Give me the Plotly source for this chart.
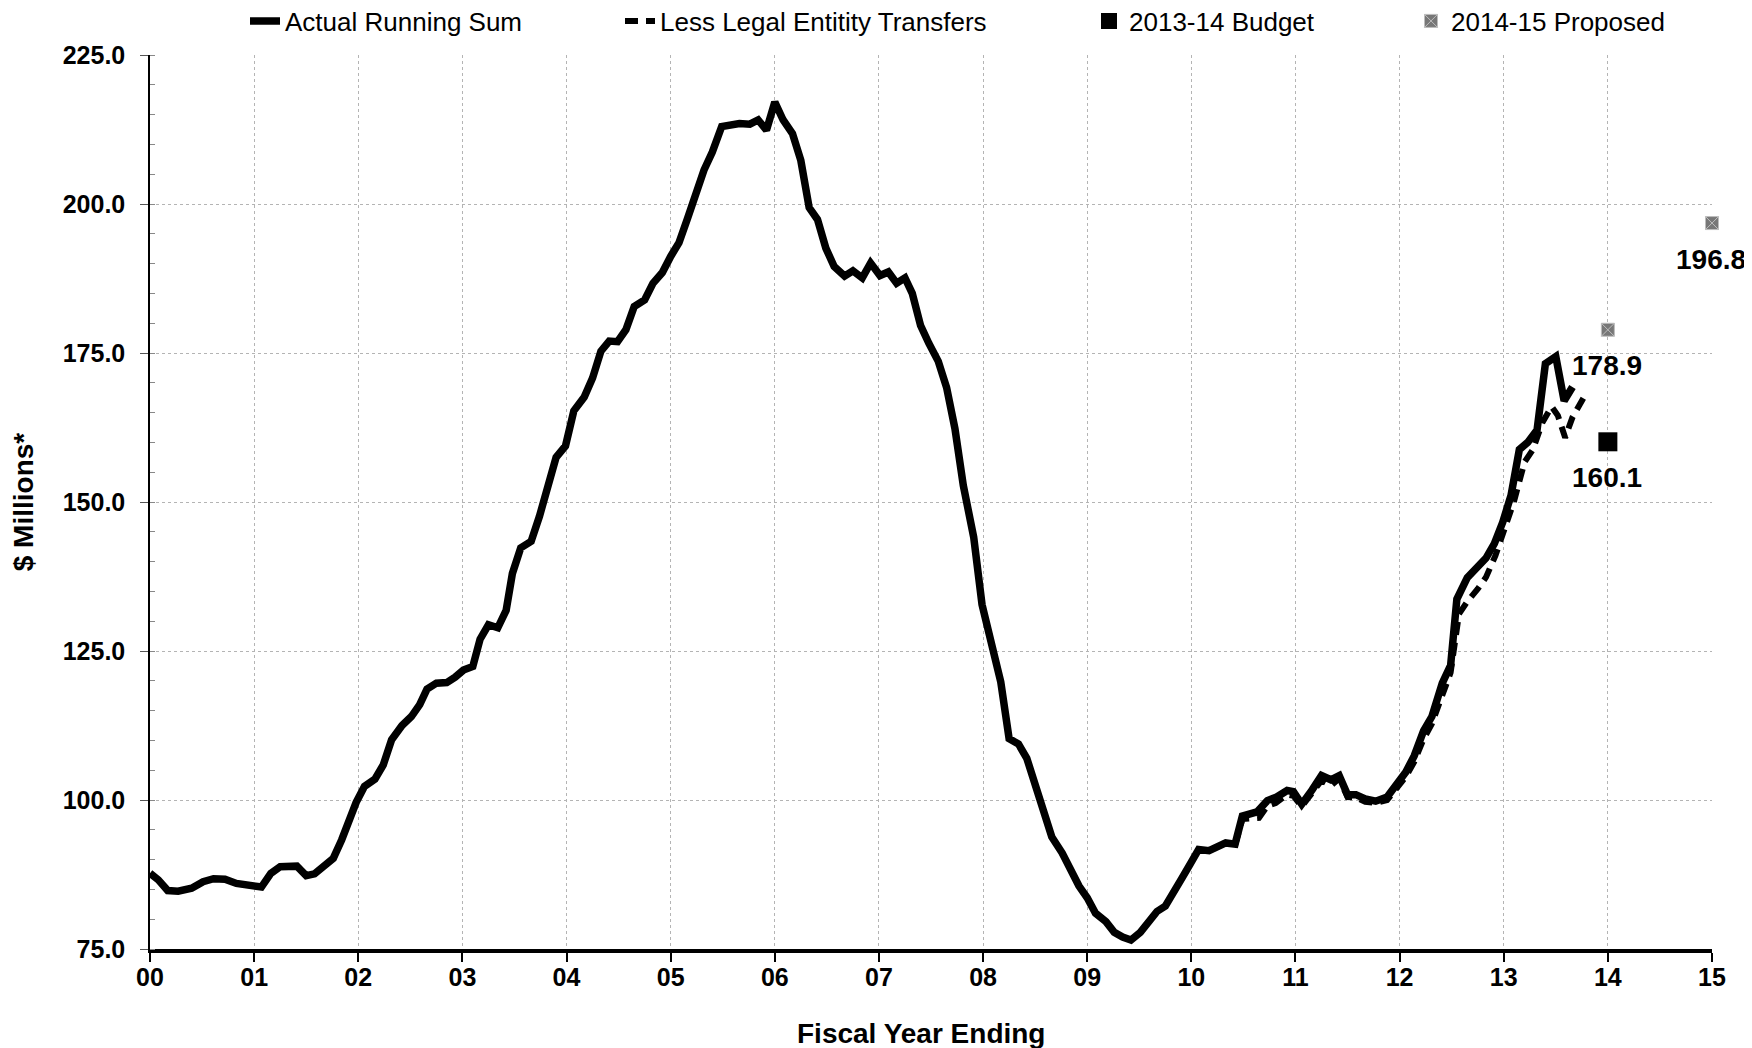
import plotly.graph_objects as go

# fiscal year (00 = start of axis) and running sum, $ millions
actual_x = [0.00, 0.08, 0.17, 0.27, 0.40, 0.51, 0.61, 0.72, 0.83, 0.94, 1.07, 1.16, 1.25, 1.41, 1.50,
            1.58, 1.68, 1.76, 1.84, 1.91, 1.98, 2.06, 2.16, 2.24, 2.32, 2.42, 2.51, 2.59, 2.66, 2.75,
            2.85, 2.93, 3.01, 3.10, 3.17, 3.25, 3.34, 3.42, 3.48, 3.56, 3.66, 3.74, 3.82, 3.90, 3.99,
            4.07, 4.17, 4.25, 4.33, 4.41, 4.49, 4.57, 4.65, 4.75, 4.83, 4.92, 5.00, 5.08, 5.16, 5.24,
            5.32, 5.40, 5.49, 5.66, 5.76, 5.84, 5.92, 6.00, 6.08, 6.17, 6.25, 6.33, 6.41, 6.49, 6.57,
            6.67, 6.75, 6.84, 6.92, 7.01, 7.09, 7.17, 7.25, 7.32, 7.40, 7.48, 7.57, 7.65, 7.73, 7.81,
            7.91, 7.99, 8.07, 8.17, 8.25, 8.34, 8.42, 8.50, 8.58, 8.66, 8.76, 8.84, 8.92, 9.00, 9.08,
            9.18, 9.26, 9.34, 9.42, 9.51, 9.60, 9.67, 9.75, 9.83, 9.91, 9.99, 10.07, 10.17, 10.25, 10.33,
            10.42, 10.49, 10.63, 10.73, 10.82, 10.92, 10.98, 11.06, 11.16, 11.25, 11.34, 11.42, 11.50, 11.58, 11.67,
            11.77, 11.88, 11.96, 12.06, 12.14, 12.23, 12.31, 12.41, 12.49, 12.55, 12.65, 12.75, 12.83, 12.91, 12.99,
            13.07, 13.15, 13.23, 13.32, 13.40, 13.50, 13.58, 13.66]
actual_y = [87.7, 86.6, 84.8, 84.7, 85.2, 86.3, 86.8, 86.7, 86.0, 85.7, 85.4, 87.7, 88.8, 88.9, 87.3,
            87.6, 89.0, 90.2, 93.3, 96.7, 99.6, 102.3, 103.5, 105.9, 110.1, 112.5, 114.0, 116.0, 118.6, 119.6,
            119.7, 120.6, 121.8, 122.4, 127.0, 129.4, 128.9, 131.8, 138.0, 142.3, 143.4, 147.6, 152.5, 157.5, 159.4,
            165.3, 167.6, 170.8, 175.3, 177.0, 176.9, 178.9, 182.8, 183.9, 186.7, 188.5, 191.2, 193.5, 197.5, 201.6,
            205.7, 208.7, 213.0, 213.5, 213.4, 214.1, 212.4, 217.1, 214.1, 211.8, 207.3, 199.4, 197.4, 192.6, 189.5,
            187.9, 188.8, 187.6, 190.1, 188.0, 188.6, 186.7, 187.6, 185.0, 179.6, 176.6, 173.6, 169.2, 162.3, 152.8,
            144.1, 132.8, 126.8, 119.8, 110.3, 109.4, 107.0, 102.5, 98.2, 93.8, 91.1, 88.2, 85.6, 83.6, 81.0,
            79.6, 77.8, 77.0, 76.5, 77.8, 79.8, 81.3, 82.2, 84.8, 86.9, 89.3, 91.7, 91.5, 92.1, 92.8,
            92.6, 97.3, 98.0, 99.9, 100.5, 101.6, 101.4, 99.3, 101.7, 104.1, 103.4, 104.1, 100.9, 100.9, 100.2,
            99.8, 100.5, 102.3, 104.7, 107.4, 111.6, 114.0, 119.6, 122.6, 133.7, 137.3, 139.1, 140.6, 143.0, 146.6,
            151.1, 158.8, 160.0, 162.1, 173.2, 174.4, 167.0, 169.3]

less_x = [10.42, 10.49, 10.65, 10.73, 10.81, 10.92, 10.98, 11.06, 11.16, 11.25, 11.34, 11.42, 11.50, 11.58,
          11.67, 11.77, 11.88, 11.96, 12.06, 12.14, 12.23, 12.31, 12.41, 12.49, 12.57, 12.65, 12.75, 12.83,
          12.92, 13.00, 13.10, 13.20, 13.28, 13.37, 13.46, 13.52, 13.59, 13.66, 13.77]
less_y = [92.4, 96.8, 97.0, 99.0, 99.5, 100.9, 100.7, 98.9, 101.2, 103.3, 102.4, 103.6, 100.5, 100.4,
          99.7, 99.5, 100.0, 101.6, 103.9, 106.4, 110.2, 112.8, 118.0, 121.4, 131.2, 133.3, 135.4, 137.4,
          141.0, 145.4, 150.2, 156.7, 158.8, 163.3, 166.0, 164.5, 160.8, 164.2, 167.6]

budget_x = [14]
budget_y = [160.1]
proposed_x = [14, 15]
proposed_y = [178.9, 196.8]

year_ticks = list(range(16))
year_labels = ["%02d" % t for t in year_ticks]

FONT = "Liberation Sans, Arial, sans-serif"
# page body keeps its default 8px margin, so the figure is 8px smaller than the window
W, H = 1744, 1040

fig = go.Figure()
fig.add_trace(go.Scatter(x=actual_x, y=actual_y, mode="lines", name="Actual Running Sum",
                         line=dict(color="black", width=7.5), legend="legend"))
fig.add_trace(go.Scatter(x=less_x, y=less_y, mode="lines", name="Less Legal Entitity Transfers",
                         line=dict(color="black", width=6, dash="13px,8px"), legend="legend2"))
fig.add_trace(go.Scatter(x=budget_x, y=budget_y, mode="markers", name="2013-14 Budget",
                         marker=dict(symbol="square", size=19, color="black"),
                         cliponaxis=False, legend="legend3"))
fig.add_trace(go.Scatter(x=proposed_x, y=proposed_y, mode="markers", name="2014-15 Proposed",
                         marker=dict(symbol="square-x", size=13, color="#777777",
                                     line=dict(color="#bdbdbd", width=1)),
                         cliponaxis=False, legend="legend4"))

# value labels under the point markers
for xv, yv in zip(budget_x + proposed_x, budget_y + proposed_y):
    fig.add_annotation(x=xv, y=yv, text="%.1f" % yv, showarrow=False, yshift=-36, xshift=-1,
                       font=dict(family=FONT, size=28, color="black", weight="bold"))

titlefont = dict(family=FONT, size=28, color="black", weight="bold")
# x axis title sits a little left of the plot centre in the original
fig.add_annotation(text="Fiscal Year Ending", xref="paper", yref="paper", x=0.4936, y=0,
                   yshift=-84, yanchor="middle", showarrow=False, font=titlefont)

def leg(xpix):
    return dict(x=xpix / W, xref="container", xanchor="left", y=1 - 13 / H, yref="container",
                yanchor="middle", orientation="h", bgcolor="rgba(0,0,0,0)", visible=True,
                font=dict(family=FONT, size=26, color="black"))

grid = dict(showgrid=True, gridcolor="#b4b4b4", gridwidth=1, griddash="dot", zeroline=False)
tickfont = dict(family=FONT, size=25, color="black", weight="bold")

fig.update_layout(
    width=W, height=H, showlegend=True,
    margin=dict(l=142, r=40, t=47, b=99, autoexpand=False),
    paper_bgcolor="white", plot_bgcolor="white",
    legend=leg(237), legend2=leg(612), legend3=leg(1081), legend4=leg(1403),
    xaxis=dict(range=[0, 15], tickvals=year_ticks, ticktext=year_labels, tickfont=tickfont,
               ticks="outside", ticklen=9, tickwidth=2, tickcolor="black", automargin=False,
               showline=True, linecolor="black", linewidth=4, ticklabelstandoff=-6, **grid),
    yaxis=dict(range=[75, 225], dtick=25, tickformat=".1f", tickfont=tickfont, automargin=False,
               ticks="outside", ticklen=8, tickwidth=1, tickcolor="#555",
               minor=dict(dtick=5, ticks="inside", ticklen=5, tickcolor="#888", showgrid=False),
               showline=True, linecolor="black", linewidth=1.5, ticklabelstandoff=10,
               title=dict(text="$ Millions*", font=titlefont, standoff=24), **grid),
)

fig.write_html("out.html")
